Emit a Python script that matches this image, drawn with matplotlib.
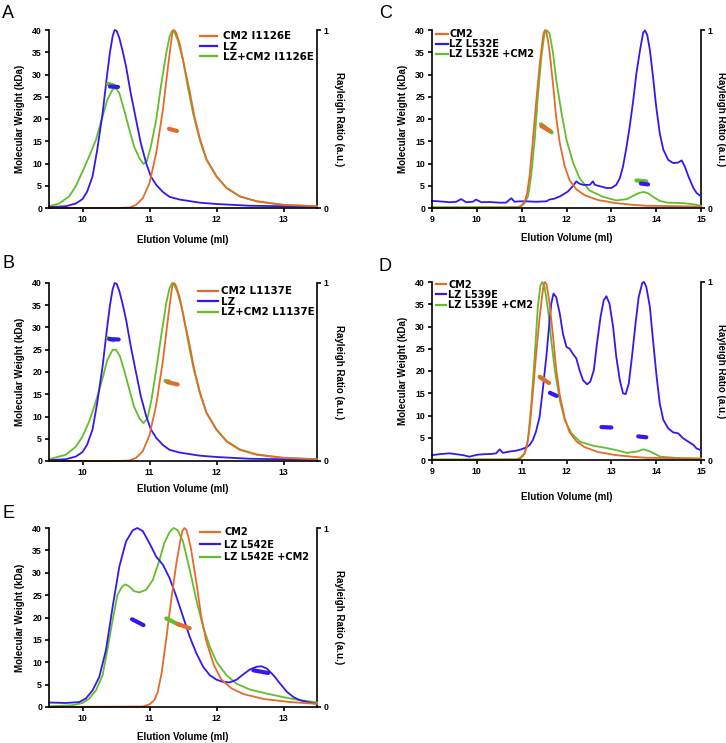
import numpy as np
import matplotlib
matplotlib.use("Agg")
import matplotlib.pyplot as plt
from matplotlib.lines import Line2D
from matplotlib.font_manager import FontProperties

ORANGE = "#E36B2C"
BLUE = "#3418F0"
GREEN = "#62BE2A"

# ---------------- Panel A ----------------
a_lz_x = [9.5, 9.75, 9.9, 10.0, 10.07, 10.15, 10.22, 10.3, 10.37, 10.41, 10.45, 10.48, 10.51, 10.55,
          10.6, 10.65, 10.72, 10.8, 10.87, 10.95, 11.02, 11.1, 11.2, 11.3, 11.45, 11.75, 12.0,
          12.5, 13.0, 13.5]
a_lz_y = [0.2, 0.4, 1.0, 2.0, 3.7, 7.1, 13.1, 21.3, 30.3, 35.0, 38.6, 40.0, 39.8, 38.2,
          35.2, 31.8, 25.8, 19.8, 14.6, 10.1, 7.1, 5.2, 3.6, 2.5, 1.9, 1.2, 0.9,
          0.5, 0.4, 0.3]
a_cm2_x = [9.5, 10.5, 10.7, 10.8, 10.9, 11.0, 11.1, 11.2, 11.27, 11.32, 11.34, 11.36, 11.38, 11.4, 11.45,
           11.52, 11.6, 11.67, 11.75, 11.85, 12.0, 12.15, 12.35, 12.6, 13.0, 13.5]
a_cm2_y = [0.0, 0.0, 0.1, 0.7, 2.2, 5.6, 12.3, 22.1, 31.0, 37.0, 39.2, 40.0, 39.8, 39.3, 37.0,
           31.8, 26.2, 20.6, 15.7, 11.0, 7.1, 4.5, 2.6, 1.5, 0.7, 0.4]
a_mix_x = [9.5, 9.65, 9.8, 9.9, 10.0, 10.1, 10.2, 10.3, 10.37, 10.45, 10.5, 10.55, 10.62, 10.7, 10.77,
           10.85, 10.91, 10.96, 11.02, 11.1, 11.17, 11.25, 11.3, 11.34, 11.37, 11.42, 11.5, 11.57,
           11.65, 11.75, 11.85, 12.0, 12.15, 12.35, 12.6, 13.0, 13.5]
a_mix_y = [0.4, 1.0, 2.6, 4.9, 8.2, 11.6, 15.3, 20.6, 24.3, 26.7, 26.9, 25.8, 22.1, 17.6, 13.8,
           11.2, 9.9, 10.5, 13.8, 19.8, 27.3, 34.8, 38.5, 39.9, 39.6, 37.8, 33.3, 27.3,
           21.3, 15.3, 10.8, 7.1, 4.5, 2.6, 1.5, 0.7, 0.4]
a_mw = [  # (x pair, MW pair, colour)
    ([10.38, 10.47], [27.9, 27.5], GREEN),
    ([10.41, 10.53], [27.3, 27.2], BLUE),
    ([11.29, 11.41], [17.8, 17.3], ORANGE),
]
a_labels = ["CM2 I1126E", "LZ", "LZ+CM2 I1126E"]

# ---------------- Panel B ----------------
b_cm2_x = a_cm2_x
b_cm2_y = [0.0, 0.0, 0.1, 0.7, 2.2, 5.8, 12.6, 22.5, 31.3, 37.2, 39.3, 40.0, 39.8, 39.2, 36.8,
           31.5, 26.0, 20.4, 15.6, 10.9, 7.0, 4.4, 2.5, 1.4, 0.7, 0.4]
b_mix_x = [9.5, 9.75, 9.9, 10.0, 10.1, 10.2, 10.3, 10.37, 10.45, 10.5, 10.56, 10.62, 10.7, 10.77, 10.85,
           10.91, 10.97, 11.03, 11.1, 11.18, 11.25, 11.3, 11.34, 11.37, 11.42, 11.5, 11.57, 11.65,
           11.75, 11.85, 12.0, 12.15, 12.35, 12.6, 13.0, 13.5]
b_mix_y = [0.4, 1.4, 3.2, 5.5, 8.9, 13.4, 18.6, 22.7, 25.0, 25.0, 23.5, 20.5, 16.0, 12.2, 9.6,
           8.5, 9.6, 13.8, 20.5, 28.7, 35.5, 38.9, 40.0, 39.6, 37.8, 33.3, 27.3, 21.3,
           15.3, 10.8, 7.1, 4.5, 2.6, 1.5, 0.7, 0.4]
b_mw = [
    ([10.38, 10.46], [27.6, 27.1], GREEN),
    ([10.4, 10.54], [27.4, 27.3], BLUE),
    ([11.24, 11.3], [18.0, 17.8], GREEN),
    ([11.27, 11.42], [17.7, 17.2], ORANGE),
]
b_labels = ["CM2 L1137E", "LZ", "LZ+CM2 L1137E"]

# ---------------- CM2 (wild type), shared by C, D, E ----------------
cm2_x = [9.0, 9.5, 10.9, 11.0, 11.07, 11.12, 11.18, 11.25, 11.32, 11.4, 11.46, 11.49, 11.52, 11.55,
         11.58, 11.62, 11.7, 11.77, 11.85, 11.96, 12.07, 12.22, 12.4, 12.7, 13.1, 13.5, 13.78, 14.5, 15.0]
cm2_y = [0.0, 0.0, 0.1, 0.6, 1.5, 3.2, 7.5, 15.2, 23.5, 32.0, 37.2, 39.3, 40.0, 39.6,
         38.0, 35.3, 27.8, 20.4, 14.6, 9.4, 6.2, 4.2, 2.9, 1.8, 1.1, 0.7, 0.5, 0.4, 0.3]

# ---------------- Panel C ----------------
c_lz_x = [9.0, 9.16, 9.39, 9.54, 9.65, 9.76, 9.91, 9.98, 10.1, 10.28, 10.51, 10.65, 10.77, 10.84,
          10.95, 11.1, 11.32, 11.55, 11.62, 11.73, 11.85, 11.92, 12.03, 12.14, 12.22, 12.28, 12.37,
          12.52, 12.59, 12.63, 12.74, 12.89, 13.0, 13.11, 13.19, 13.26, 13.34, 13.41, 13.49, 13.56,
          13.64, 13.71, 13.75, 13.8, 13.86, 13.93, 14.0, 14.08, 14.16, 14.27, 14.38, 14.49, 14.57,
          14.64, 14.72, 14.83, 14.9, 15.0]
c_lz_y = [1.6, 1.5, 1.3, 1.4, 2.0, 1.3, 1.4, 1.9, 1.3, 1.35, 1.2, 1.2, 2.2, 1.4,
          1.5, 1.5, 1.4, 1.5, 1.9, 2.1, 2.6, 3.0, 3.7, 4.9, 6.0, 5.5, 5.2,
          5.2, 6.0, 5.2, 4.9, 4.5, 4.5, 5.2, 6.7, 9.3, 13.8, 18.3, 24.3, 30.3,
          35.5, 39.4, 39.9, 38.9, 35.5, 29.5, 22.8, 16.8, 13.1, 10.8, 10.1, 10.2, 10.7,
          9.3, 7.1, 4.5, 3.4, 2.6]
c_mix_x = [9.0, 10.95, 11.06, 11.14, 11.21, 11.29, 11.36, 11.44, 11.51, 11.56, 11.62, 11.7, 11.77,
           11.89, 12.0, 12.15, 12.29, 12.52, 12.82, 13.11, 13.35, 13.5, 13.62, 13.72, 13.82, 13.95,
           14.08, 14.25, 14.6, 14.85, 15.0]
c_mix_y = [0.2, 0.2, 1.0, 2.6, 7.1, 15.3, 25.0, 34.0, 39.3, 39.9, 39.3, 34.8, 28.8,
           21.3, 15.3, 10.1, 6.7, 3.9, 2.5, 1.7, 2.0, 2.8, 3.4, 3.6, 3.3, 2.4,
           1.6, 1.2, 1.1, 0.8, 0.5]
c_mw = [
    ([11.43, 11.67], [18.8, 17.0], GREEN),
    ([11.44, 11.63], [18.4, 17.3], ORANGE),
    ([13.56, 13.78], [6.2, 6.0], GREEN),
    ([13.66, 13.82], [5.5, 5.3], BLUE),
]
c_labels = ["CM2", "LZ L532E", "LZ L532E +CM2"]

# ---------------- Panel D ----------------
d_lz_x = [9.0, 9.16, 9.39, 9.54, 9.69, 9.83, 10.02, 10.17, 10.32, 10.43, 10.51, 10.58, 10.73, 10.88,
          10.99, 11.1, 11.18, 11.25, 11.32, 11.4, 11.47, 11.55, 11.61, 11.66, 11.71, 11.77, 11.85,
          11.92, 12.0, 12.07, 12.14, 12.22, 12.29, 12.37, 12.46, 12.53, 12.61, 12.68, 12.76, 12.83,
          12.89, 12.96, 13.04, 13.11, 13.19, 13.26, 13.32, 13.39, 13.46, 13.54, 13.61, 13.69, 13.73,
          13.78, 13.86, 13.93, 14.01, 14.08, 14.16, 14.27, 14.38, 14.49, 14.6, 14.72, 14.83, 14.9, 15.0]
d_lz_y = [1.1, 1.3, 1.5, 1.3, 1.1, 0.75, 1.2, 1.3, 1.35, 1.5, 2.4, 1.6, 1.9, 2.1,
          2.4, 2.8, 3.4, 4.5, 6.4, 9.7, 15.7, 23.2, 29.9, 35.1, 37.4, 36.6, 32.9,
          28.4, 25.4, 25.0, 23.9, 22.8, 20.2, 17.9, 17.0, 17.6, 20.2, 26.2, 32.2, 35.9,
          36.8, 35.1, 29.9, 23.2, 17.9, 15.0, 14.8, 17.2, 23.2, 30.7, 36.6, 39.8, 40.0,
          38.9, 34.4, 26.9, 18.7, 12.7, 9.0, 7.1, 6.2, 6.0, 4.9, 4.1, 3.4, 2.6, 2.2]
d_mix_x = [9.0, 10.9, 10.98, 11.06, 11.14, 11.21, 11.29, 11.36, 11.42, 11.46, 11.51, 11.59, 11.66,
           11.74, 11.85, 11.96, 12.11, 12.3, 12.6, 12.89, 13.12, 13.34, 13.57, 13.72, 13.87, 14.09,
           14.54, 15.0]
d_mix_y = [0.15, 0.15, 0.6, 1.5, 4.5, 12.0, 23.2, 34.4, 39.3, 40.0, 38.9, 33.6, 26.9,
           20.2, 13.5, 9.0, 6.0, 4.1, 3.2, 2.7, 2.2, 1.6, 1.9, 2.4, 1.9, 0.75,
           0.4, 0.3]
d_mw = [
    ([11.4, 11.5], [18.7, 18.2], GREEN),
    ([11.41, 11.61], [18.6, 17.3], ORANGE),
    ([11.63, 11.78], [15.1, 14.4], BLUE),
    ([12.78, 13.0], [7.4, 7.3], BLUE),
    ([13.6, 13.78], [5.3, 5.1], BLUE),
]
d_labels = ["CM2", "LZ L539E", "LZ L539E +CM2"]

# ---------------- Panel E ----------------
e_lz_x = [9.5, 9.75, 9.95, 10.05, 10.15, 10.25, 10.35, 10.45, 10.55, 10.65, 10.75, 10.82, 10.9, 11.0,
          11.1, 11.2, 11.3, 11.4, 11.5, 11.6, 11.7, 11.8, 11.9, 12.0, 12.1, 12.2, 12.3, 12.4, 12.5,
          12.6, 12.67, 12.75, 12.85, 12.95, 13.05, 13.15, 13.25, 13.4, 13.5]
e_lz_y = [1.0, 0.9, 1.1, 1.9, 3.7, 6.7, 12.7, 22.4, 31.4, 37.0, 39.5, 40.0, 39.3, 36.6,
          33.6, 31.8, 28.8, 24.7, 20.2, 15.7, 12.0, 9.0, 7.1, 6.1, 5.6, 5.5, 6.1, 7.3, 8.4,
          9.0, 9.1, 8.6, 7.1, 5.2, 3.4, 2.2, 1.5, 1.0, 0.7]
e_mix_x = [9.5, 9.85, 10.0, 10.1, 10.2, 10.3, 10.37, 10.45, 10.52, 10.59, 10.64, 10.7, 10.77, 10.85,
           10.95, 11.05, 11.15, 11.22, 11.3, 11.36, 11.42, 11.5, 11.6, 11.7, 11.8, 11.9, 12.0,
           12.15, 12.3, 12.5, 12.75, 13.0, 13.25, 13.5]
e_mix_y = [0.15, 0.4, 0.9, 1.9, 3.7, 7.1, 12.7, 19.4, 25.0, 26.9, 27.4, 26.9, 25.9, 25.6,
           26.2, 28.4, 32.9, 36.6, 39.1, 40.0, 39.5, 37.0, 30.7, 23.9, 17.9, 13.5, 10.1,
           7.1, 5.2, 3.9, 3.0, 2.2, 1.5, 1.0]
e_mw = [
    ([10.74, 10.91], [19.6, 18.3], BLUE),
    ([11.25, 11.45], [19.8, 18.3], GREEN),
    ([11.42, 11.6], [18.55, 17.6], ORANGE),
    ([12.55, 12.77], [8.2, 7.6], BLUE),
]
e_labels = ["CM2", "LZ L542E", "LZ L542E +CM2"]

# ---------------- figure ----------------
W, H = 726, 743
fig = plt.figure(figsize=(W / 100, H / 100), dpi=100)

TICKFONT = dict(family="Liberation Sans", weight="bold", size=6.3)
LABFONT = dict(family="Liberation Sans", weight="bold", size=7)


def make_axes(left, right, top, bottom):
    return fig.add_axes([left / W, 1 - bottom / H, (right - left) / W, (bottom - top) / H])


def panel(rect, xlim, xticks, curves, mw, labels, leg, xlab_off, letter):
    left, right, top, bottom = rect
    ax = make_axes(left, right, top, bottom)
    ax2 = ax.twinx()
    ax.set_xlim(*xlim)
    ax.set_ylim(0, 40)
    ax2.set_ylim(0, 1)
    ax.set_xticks(xticks)
    ax.set_yticks(np.arange(0, 41, 5))
    ax2.set_yticks([0, 1])
    for a in (ax, ax2):
        a.spines["top"].set_visible(False)
        for s in a.spines.values():
            s.set_linewidth(1.2)
        a.tick_params(direction="out", length=3, width=1.2, pad=2)
    ax.spines["right"].set_visible(False)
    ax2.spines["left"].set_visible(False)
    ax2.spines["bottom"].set_visible(False)
    for t in ax.get_xticklabels() + ax.get_yticklabels() + ax2.get_yticklabels():
        t.set_fontproperties(FontProperties(**TICKFONT))
    ax.set_zorder(2)
    ax.patch.set_visible(False)

    ph = bottom - top
    pw = right - left
    ax.set_xlabel("Elution Volume (ml)", va="center", **LABFONT)
    ax.xaxis.set_label_coords(0.5, -xlab_off / ph)
    ax.set_ylabel("Molecular Weight (kDa)", va="center", **LABFONT)
    ax.yaxis.set_label_coords(-29 / pw, 0.5)
    ax2.set_ylabel("Rayleigh Ratio (a.u.)", rotation=270, va="center", ha="center", **LABFONT)
    ax2.yaxis.set_label_coords(1 + leg["rlab"] / pw, 0.5)

    for (x, y, c) in curves:
        x = np.asarray(x)
        y = np.asarray(y)
        m = (x >= xlim[0]) & (x <= xlim[1])
        ax.plot(x[m], y[m], color=c, lw=1.3, clip_on=False, solid_joinstyle="round")
    for (x, y, c) in mw:
        ax.plot(x, y, color=c, lw=3.0, solid_capstyle="round", zorder=5)
    handles = [Line2D([], [], color=c, lw=1.6) for c in (ORANGE, BLUE, GREEN)]
    ax.legend(handles, labels, loc="upper left", bbox_to_anchor=(leg["x"], leg["y"]),
              frameon=False, borderaxespad=0, borderpad=0,
              handlelength=leg["hl"], handletextpad=leg["tp"], labelspacing=leg["ls"],
              prop=FontProperties(family="DejaVu Sans", weight="bold", size=leg["fs"]))
    fig.text(letter[0] / W, 1 - letter[1] / H, letter[2], family="Liberation Sans",
             size=13, va="baseline", ha="left")
    return ax


panel((49, 317, 30, 208), (9.5, 13.5), [10, 11, 12, 13],
      [(a_mix_x, a_mix_y, GREEN), (a_lz_x, a_lz_y, BLUE), (a_cm2_x, a_cm2_y, ORANGE)],
      a_mw, a_labels,
      dict(x=0.563, y=0.992, hl=1.65, tp=0.6, ls=0.02, fs=7.4, rlab=22), 32, (2, 18, "A"))

panel((49, 317, 283, 461), (9.5, 13.5), [10, 11, 12, 13],
      [(b_mix_x, b_mix_y, GREEN), (a_lz_x, a_lz_y, BLUE), (b_cm2_x, b_cm2_y, ORANGE)],
      b_mw, b_labels,
      dict(x=0.555, y=0.982, hl=2.0, tp=0.25, ls=0.05, fs=7.4, rlab=22), 28, (2, 268, "B"))

panel((432, 701, 30, 208), (9, 15), [9, 10, 11, 12, 13, 14, 15],
      [(c_mix_x, c_mix_y, GREEN), (c_lz_x, c_lz_y, BLUE), (cm2_x, cm2_y, ORANGE)],
      c_mw, c_labels,
      dict(x=0.014, y=1.003, hl=1.27, tp=0.12, ls=-0.02, fs=7.0, rlab=20), 30, (379, 18, "C"))

panel((432, 701, 282, 460), (9, 15), [9, 10, 11, 12, 13, 14, 15],
      [(d_mix_x, d_mix_y, GREEN), (d_lz_x, d_lz_y, BLUE), (cm2_x, cm2_y, ORANGE)],
      d_mw, d_labels,
      dict(x=0.014, y=1.014, hl=1.1, tp=0.17, ls=0.03, fs=7.0, rlab=20), 36.7, (379, 271, "D"))

panel((49, 317, 528, 707), (9.5, 13.5), [10, 11, 12, 13],
      [(e_mix_x, e_mix_y, GREEN), (e_lz_x, e_lz_y, BLUE), (cm2_x, cm2_y, ORANGE)],
      e_mw, e_labels,
      dict(x=0.563, y=1.003, hl=2.06, tp=0.44, ls=0.24, fs=7.0, rlab=22), 30, (2, 518, "E"))

fig.savefig("out.png", dpi=100)
